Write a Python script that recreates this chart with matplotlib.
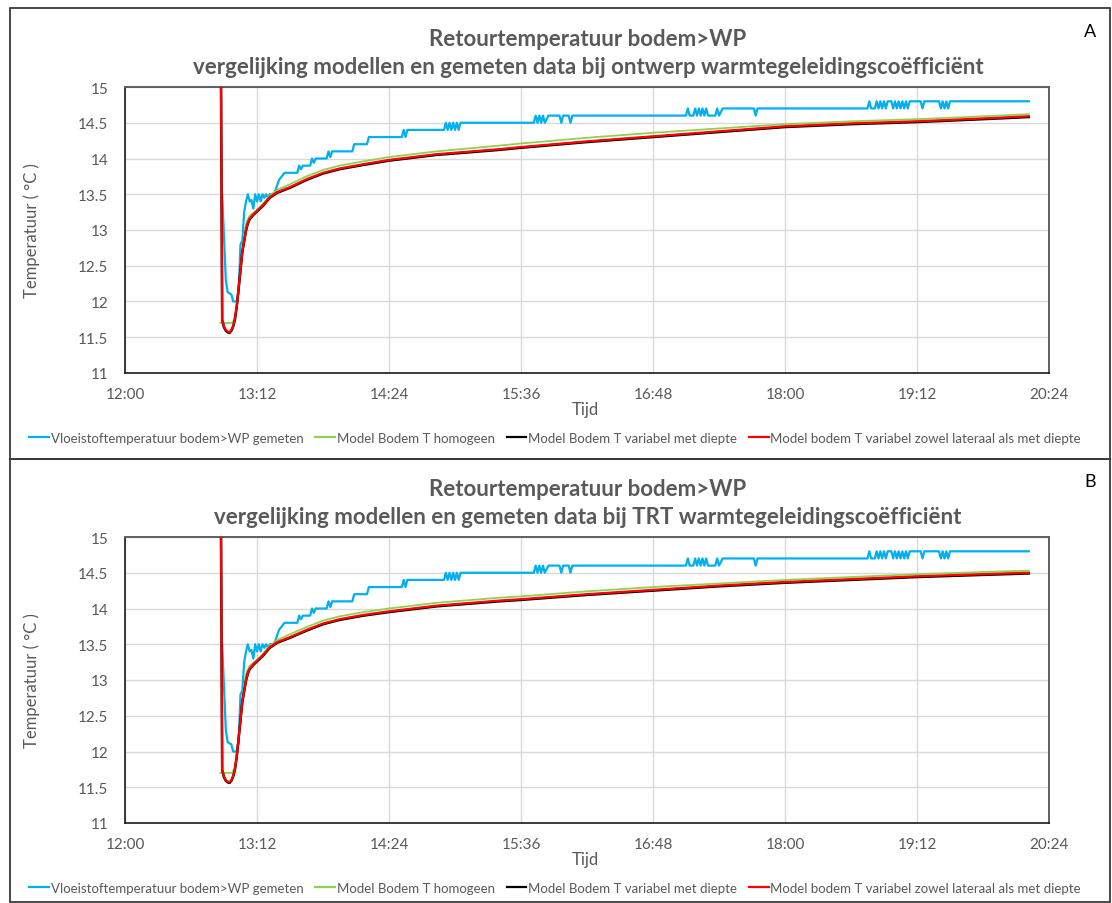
import matplotlib
matplotlib.use("Agg")
import matplotlib.pyplot as plt
from matplotlib.lines import Line2D
from matplotlib.patches import Rectangle
from matplotlib.ticker import FixedLocator, FuncFormatter

plt.rcParams["font.family"] = ["Lato", "DejaVu Sans"]

# ---------------- data ----------------
PANEL_LABELS = ["A", "B"]
TITLES = [
    "Retourtemperatuur bodem>WP\nvergelijking modellen en gemeten data bij ontwerp warmtegeleidingscoëfficiënt",
    "Retourtemperatuur bodem>WP\nvergelijking modellen en gemeten data bij TRT warmtegeleidingscoëfficiënt",
]
SERIES_NAMES = [
    "Vloeistoftemperatuur bodem>WP gemeten",
    "Model Bodem T homogeen",
    "Model Bodem T variabel met diepte",
    "Model bodem T variabel zowel lateraal als met diepte",
]
X_TICK_LABELS = ["12:00", "13:12", "14:24", "15:36", "16:48", "18:00", "19:12", "20:24"]
Y_TICKS = [11, 11.5, 12, 12.5, 13, 13.5, 14, 14.5, 15]

# measured fluid temperature (same measurement in both panels)
BLUE_TIME = [
    "12:53", "12:55", "12:56", "12:58", "12:59", "13:01", "13:02", "13:03", "13:04", "13:05",
    "13:06", "13:07", "13:08", "13:09", "13:10", "13:11", "13:12", "13:13", "13:14", "13:15",
    "13:16", "13:17", "13:18", "13:19", "13:21", "13:22", "13:24", "13:27", "13:34", "13:35",
    "13:36", "13:37", "13:41", "13:42", "13:43", "13:44", "13:50", "13:51", "13:52", "13:53",
    "14:04", "14:05", "14:12", "14:13", "14:31", "14:32", "14:33", "14:34", "14:54", "14:55",
    "14:56", "14:57", "14:58", "14:59", "15:00", "15:01", "15:02", "15:03", "15:43", "15:44",
    "15:45", "15:46", "15:47", "15:48", "15:49", "15:51", "15:57", "15:58", "15:59", "16:02",
    "16:03", "16:04", "17:06", "17:07", "17:08", "17:10", "17:11", "17:12", "17:13", "17:14",
    "17:15", "17:16", "17:17", "17:18", "17:22", "17:23", "17:24", "17:26", "17:43", "17:44",
    "17:45", "18:45", "18:46", "18:47", "18:49", "18:50", "18:51", "18:52", "18:53", "18:54",
    "18:55", "18:56", "18:58", "18:59", "19:00", "19:01", "19:02", "19:03", "19:04", "19:05",
    "19:06", "19:07", "19:08", "19:09", "19:14", "19:15", "19:16", "19:24", "19:25", "19:26",
    "19:27", "19:28", "19:29", "19:30", "20:13",
]
BLUE_TEMP = [
    13.5, 12.3, 12.13, 12.1, 12.0, 12.0, 12.13, 12.8, 12.85, 13.25,
    13.4, 13.5, 13.4, 13.42, 13.3, 13.5, 13.4, 13.5, 13.4, 13.5,
    13.45, 13.5, 13.45, 13.5, 13.5, 13.55, 13.7, 13.8, 13.8, 13.9,
    13.85, 13.9, 13.9, 14.0, 13.94, 14.0, 14.0, 14.1, 14.02, 14.1,
    14.1, 14.2, 14.2, 14.3, 14.3, 14.4, 14.3, 14.4, 14.4, 14.5,
    14.4, 14.5, 14.4, 14.5, 14.4, 14.5, 14.4, 14.5, 14.5, 14.6,
    14.5, 14.6, 14.5, 14.6, 14.5, 14.6, 14.6, 14.5, 14.6, 14.6,
    14.5, 14.6, 14.6, 14.7, 14.6, 14.6, 14.7, 14.6, 14.7, 14.6,
    14.7, 14.6, 14.7, 14.6, 14.6, 14.7, 14.6, 14.7, 14.7, 14.6,
    14.7, 14.7, 14.8, 14.7, 14.7, 14.8, 14.7, 14.8, 14.7, 14.8,
    14.7, 14.8, 14.8, 14.7, 14.8, 14.7, 14.8, 14.7, 14.8, 14.7,
    14.8, 14.7, 14.8, 14.8, 14.8, 14.7, 14.8, 14.8, 14.7, 14.8,
    14.7, 14.8, 14.7, 14.8, 14.8,
]

# model curves: common time base
MODEL_TIME = [
    "12:52", "12:53", "12:54", "12:55", "12:56", "12:57", "12:58", "12:59", "13:00", "13:01",
    "13:02", "13:03", "13:04", "13:05", "13:06", "13:07", "13:08", "13:10", "13:12", "13:15",
    "13:19", "13:23", "13:30", "13:39", "13:48", "13:57", "14:10", "14:24", "14:50", "15:24",
    "15:36", "16:12", "16:48", "17:24", "18:00", "18:36", "19:12", "19:48", "20:13",
]
# panel A (design conductivity)
GREEN_A = [
    11.7, 11.7, 11.7, 11.7, 11.7, 11.7, 11.7, 11.72, 11.8, 11.92,
    12.15, 12.4, 12.7, 12.92, 13.08, 13.15, 13.2, 13.24, 13.28, 13.36,
    13.48, 13.56, 13.64, 13.75, 13.84, 13.9, 13.96, 14.02, 14.1, 14.18,
    14.21, 14.29, 14.36, 14.42, 14.48, 14.52, 14.55, 14.59, 14.62,
]
BLACK_A = [
    17.0, 11.74, 11.64, 11.59, 11.57, 11.56, 11.59, 11.65, 11.75, 11.94,
    12.19, 12.44, 12.69, 12.84, 12.99, 13.09, 13.15, 13.21, 13.26, 13.33,
    13.45, 13.52, 13.59, 13.7, 13.79, 13.85, 13.91, 13.97, 14.05, 14.12,
    14.15, 14.23, 14.3, 14.37, 14.44, 14.48, 14.51, 14.55, 14.58,
]
RED_A = [
    17.0, 11.75, 11.65, 11.6, 11.58, 11.57, 11.6, 11.66, 11.76, 11.95,
    12.2, 12.45, 12.7, 12.85, 13.0, 13.1, 13.16, 13.22, 13.27, 13.34,
    13.46, 13.53, 13.6, 13.71, 13.8, 13.86, 13.92, 13.98, 14.06, 14.13,
    14.16, 14.24, 14.31, 14.38, 14.45, 14.49, 14.52, 14.56, 14.59,
]
# panel B (TRT conductivity)
GREEN_B = [
    11.7, 11.7, 11.7, 11.7, 11.7, 11.7, 11.7, 11.72, 11.8, 11.92,
    12.15, 12.4, 12.7, 12.92, 13.08, 13.15, 13.2, 13.24, 13.28, 13.36,
    13.48, 13.56, 13.64, 13.74, 13.83, 13.89, 13.95, 14.0, 14.08, 14.15,
    14.17, 14.24, 14.3, 14.35, 14.4, 14.44, 14.48, 14.51, 14.53,
]
BLACK_B = [
    17.0, 11.74, 11.64, 11.59, 11.57, 11.56, 11.59, 11.65, 11.75, 11.94,
    12.19, 12.44, 12.69, 12.84, 12.99, 13.09, 13.15, 13.21, 13.26, 13.33,
    13.45, 13.52, 13.59, 13.69, 13.78, 13.84, 13.9, 13.95, 14.03, 14.1,
    14.12, 14.19, 14.25, 14.31, 14.36, 14.4, 14.44, 14.47, 14.49,
]
RED_B = [
    17.0, 11.75, 11.65, 11.6, 11.58, 11.57, 11.6, 11.66, 11.76, 11.95,
    12.2, 12.45, 12.7, 12.85, 13.0, 13.1, 13.16, 13.22, 13.27, 13.34,
    13.46, 13.53, 13.6, 13.7, 13.79, 13.85, 13.91, 13.96, 14.04, 14.11,
    14.13, 14.2, 14.26, 14.32, 14.37, 14.41, 14.45, 14.48, 14.5,
]

COLORS = ["#00B0F0", "#92D050", "#000000", "#FF0000"]
WIDTHS = [1.6, 1.3, 1.8, 1.6]
TEXT_GREY = "#595959"


def to_hours(clock):
    h, m = clock.split(":")
    return int(h) + int(m) / 60.0


def hhmm(v, _pos=None):
    total = int(round(v * 60))
    return f"{total // 60}:{total % 60:02d}"


W, H = 1112, 904
fig = plt.figure(figsize=(W / 100, H / 100), dpi=100)


def fx(px):
    return px / W


def fy(py):
    return 1 - py / H


panels = [
    dict(top=88, bottom=374, box=(9, 460), green=GREEN_A, black=BLACK_A, red=RED_A),
    dict(top=538, bottom=824, box=(460, 903), green=GREEN_B, black=BLACK_B, red=RED_B),
]

blue_x = [to_hours(t) for t in BLUE_TIME]
model_x = [to_hours(t) for t in MODEL_TIME]
x_ticks = [to_hours(t) for t in X_TICK_LABELS]
AX_L, AX_R = 125, 1049

for i, p in enumerate(panels):
    # outer frame of the chart
    y0, y1 = p["box"]
    fig.patches.append(Rectangle((fx(10), fy(y1)), fx(1110) - fx(10), fy(y0) - fy(y1),
                                 transform=fig.transFigure, fill=False,
                                 edgecolor="#3a3a3a", linewidth=1.3, zorder=0))

    ax_h = p["bottom"] - p["top"]
    ax = fig.add_axes([fx(AX_L), fy(p["bottom"]), fx(AX_R) - fx(AX_L),
                       fy(p["top"]) - fy(p["bottom"])])
    ax.plot(blue_x, BLUE_TEMP, color=COLORS[0], lw=WIDTHS[0], zorder=3)
    ax.plot(model_x, p["green"], color=COLORS[1], lw=WIDTHS[1], zorder=4)
    ax.plot(model_x, p["black"], color=COLORS[2], lw=WIDTHS[2], zorder=5)
    ax.plot(model_x, p["red"], color=COLORS[3], lw=WIDTHS[3], zorder=6)

    ax.set_xlim(x_ticks[0], x_ticks[-1])
    ax.set_ylim(11, 15)
    ax.xaxis.set_major_locator(FixedLocator(x_ticks))
    ax.xaxis.set_major_formatter(FuncFormatter(hhmm))
    ax.yaxis.set_major_locator(FixedLocator(Y_TICKS))
    ax.yaxis.set_major_formatter(FuncFormatter(lambda v, _p: f"{v:g}"))
    ax.grid(True, color="#D9D9D9", linewidth=1.0)
    ax.set_axisbelow(True)
    ax.tick_params(length=0, labelsize=11, labelcolor=TEXT_GREY)
    ax.tick_params(axis="y", pad=12)
    ax.tick_params(axis="x", pad=10)
    for side in ["top", "right"]:
        ax.spines[side].set_color("#5f5f5f")
        ax.spines[side].set_linewidth(1.4)
    for side in ["left", "bottom"]:
        ax.spines[side].set_color("#1a1a1a")
        ax.spines[side].set_linewidth(1.2)

    ax.set_ylabel("Temperatuur ( °C )", fontsize=12, color=TEXT_GREY)
    ax.yaxis.set_label_coords((32 - AX_L) / (AX_R - AX_L), 0.5)
    ax.yaxis.label.set_va("center")
    ax.set_xlabel("Tijd", fontsize=12, color=TEXT_GREY)
    ax.xaxis.set_label_coords((585 - AX_L) / (AX_R - AX_L), -(410 - 374) / ax_h)
    ax.xaxis.label.set_va("center")

    title1, title2 = TITLES[i].split("\n")
    off = p["top"] - 88
    fig.text(fx(588), fy(40 + off), title1, ha="center", va="center",
             fontsize=16, fontweight="bold", color=TEXT_GREY)
    fig.text(fx(588), fy(68 + off), title2, ha="center", va="center",
             fontsize=16, fontweight="bold", color=TEXT_GREY)
    fig.text(fx(1090), fy(32 + off), PANEL_LABELS[i], ha="center", va="center",
             fontsize=13, color="black")

    handles = [Line2D([], [], color=c, lw=1.6) for c in COLORS]
    fig.legend(handles, SERIES_NAMES, loc="center", ncol=4,
               bbox_to_anchor=(fx(555), fy(439 + off)), frameon=False,
               fontsize=9.5, labelcolor=TEXT_GREY, handlelength=1.5,
               handletextpad=0.12, columnspacing=0.9, borderpad=0, borderaxespad=0)

fig.savefig("out.png", dpi=100)
